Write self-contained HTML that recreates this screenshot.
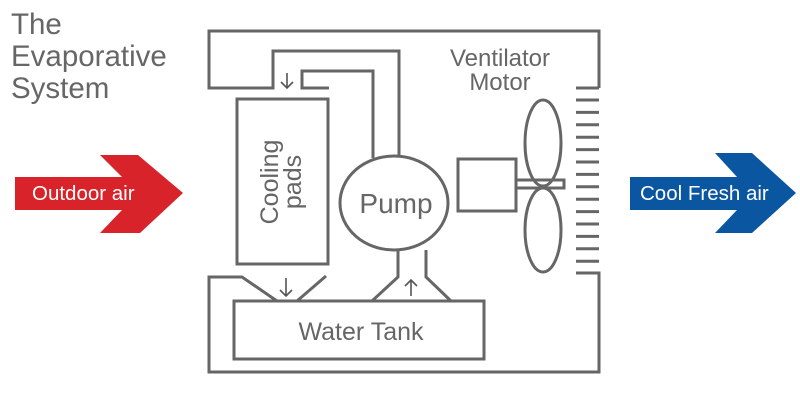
<!DOCTYPE html>
<html><head><meta charset="utf-8"><style>
html,body{margin:0;padding:0;background:#fff;}
svg{display:block;}
text{font-family:"Liberation Sans",sans-serif;}
</style></head><body>
<svg width="800" height="400" viewBox="0 0 800 400" xmlns="http://www.w3.org/2000/svg">
<g fill="#666" font-size="29.5">
<text x="11" y="34">The</text>
<text x="11" y="66">Evaporative</text>
<text x="11" y="98">System</text>
</g>
<polygon points="15,177 122,177 100,155 138,155 183,193 140,233 100,233 122,210 15,210" fill="#d9232a"/>
<text x="32" y="200" fill="#fff" font-size="20.5">Outdoor air</text>
<polygon points="630,177 737,177 715,153 752,153 796,193 752,233 715,233 737,210 630,210" fill="#0b56a0"/>
<text x="640" y="200" fill="#fff" font-size="20.5">Cool Fresh air</text>
<g fill="none" stroke="#666" stroke-width="3">
<polyline points="599,88 599,31 209,31 209,88 273,88 273,51 399,51 399,157"/>
<polyline points="329,88 302,88 302,71 373,71 373,158"/>
<polyline points="576,88 599,88"/>
<polyline points="576,273 599,273 599,372 209,372 209,277 242,277 277,301"/>
<line x1="297" y1="301" x2="326" y2="276"/>
<rect x="237" y="99" width="91" height="165"/>
<ellipse cx="394" cy="203" rx="54" ry="47"/>
<polyline points="398,250 398,277 372,301"/>
<polyline points="426,250 426,277 451,301"/>
<rect x="234" y="301" width="250" height="58"/>
<rect x="458" y="159" width="58" height="52"/>
<rect x="516" y="180" width="48" height="8"/>
<ellipse cx="543" cy="143" rx="18" ry="43"/>
<ellipse cx="543" cy="230" rx="18" ry="42"/>
</g>
<g stroke="#666" stroke-width="3">
<line x1="576" y1="100" x2="599" y2="100"/><line x1="576" y1="112.4" x2="599" y2="112.4"/>
<line x1="576" y1="124.8" x2="599" y2="124.8"/><line x1="576" y1="137.2" x2="599" y2="137.2"/>
<line x1="576" y1="149.6" x2="599" y2="149.6"/><line x1="576" y1="162" x2="599" y2="162"/>
<line x1="576" y1="174.4" x2="599" y2="174.4"/><line x1="576" y1="186.8" x2="599" y2="186.8"/>
<line x1="576" y1="199.2" x2="599" y2="199.2"/><line x1="576" y1="211.6" x2="599" y2="211.6"/>
<line x1="576" y1="224" x2="599" y2="224"/><line x1="576" y1="236.4" x2="599" y2="236.4"/>
<line x1="576" y1="248.8" x2="599" y2="248.8"/><line x1="576" y1="261.2" x2="599" y2="261.2"/>
</g>
<g fill="none" stroke="#555" stroke-width="1.6">
<path d="M287,73 V88 M281,82 L287,88 L293,82"/>
<path d="M286,278 V296 M280,290 L286,296 L292,290"/>
<path d="M411,296 V280 M405,286 L411,280 L417,286"/>
</g>
<g fill="#666" font-size="24" text-anchor="middle">
<text x="500" y="66">Ventilator</text>
<text x="500" y="90">Motor</text>
<text x="396" y="213" font-size="28">Pump</text>
<text x="361" y="340" font-size="25">Water Tank</text>
<text transform="translate(278,182) rotate(-90)" font-size="25">Cooling</text>
<text transform="translate(301,182) rotate(-90)" font-size="25">pads</text>
</g>
</svg>
</body></html>
